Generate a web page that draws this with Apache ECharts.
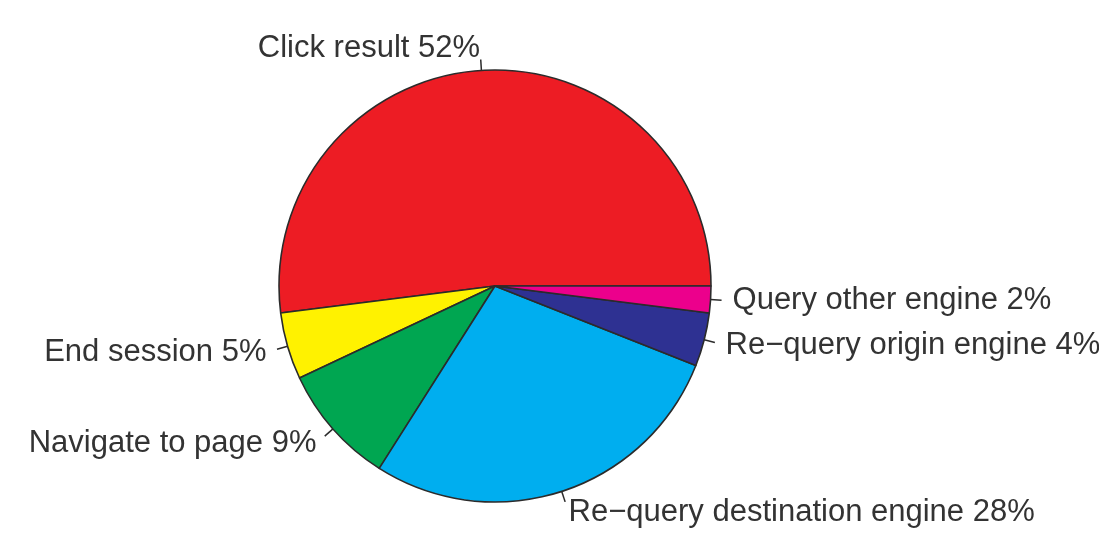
<!DOCTYPE html>
<html>
<head>
<meta charset="utf-8">
<script src="https://cdn.jsdelivr.net/npm/echarts@6/dist/echarts.min.js"></script>
<style>
  html, body { margin: 0; padding: 0; background: #ffffff; }
  #chart { width: 1099px; height: 541px; }
</style>
</head>
<body>
<div id="chart"></div>
<script>
// What searchers did next, share of sessions (%)
const categories = [
  'Click result',
  'End session',
  'Navigate to page',
  'Re\u2212query destination engine',
  'Re\u2212query origin engine',
  'Query other engine'
];
const shares = [52, 5, 9, 28, 4, 2];

// Slice fills, in the same order as the categories
const sliceColors = ['#ED1C24', '#FFF200', '#00A651', '#00AEEF', '#2E3192', '#EC008C'];

const chart = echarts.init(document.getElementById('chart'), null, { renderer: 'canvas' });

const seriesData = categories.map((name, i) => ({
  name: name,
  value: shares[i],
  itemStyle: { color: sliceColors[i] }
}));

chart.setOption({
  animation: false,
  backgroundColor: '#ffffff',
  series: [{
    type: 'pie',
    center: [495, 286],
    radius: 216,
    startAngle: 0,
    clockwise: false,
    avoidLabelOverlap: false,
    silent: true,
    data: seriesData,
    itemStyle: { borderColor: '#2b2b2b', borderWidth: 1.6 },
    label: {
      show: true,
      position: 'outside',
      formatter: p => p.name + ' ' + p.value + '%',
      color: '#333333',
      fontFamily: '"Liberation Sans", Arial, Helvetica, sans-serif',
      fontSize: 31
    },
    labelLine: {
      show: true,
      length: 11,
      length2: 0,
      smooth: false,
      lineStyle: { color: '#2b2b2b', width: 1.5 }
    },
    // Tick runs from the rim outward; the text sits twice as far out along the same ray
    labelLayout: function (p) {
      const pts = p.labelLinePoints;
      if (!pts || pts.length < 2) return {};
      const x0 = pts[0][0], y0 = pts[0][1];
      const x1 = pts[1][0], y1 = pts[1][1];
      return {
        x: x1 + (x1 - x0),
        y: y1 + (y1 - y0),
        align: x1 < x0 ? 'right' : 'left',
        verticalAlign: 'middle',
        labelLinePoints: [[x0, y0], [x1, y1], [x1, y1]]
      };
    }
  }]
});
</script>
</body>
</html>
